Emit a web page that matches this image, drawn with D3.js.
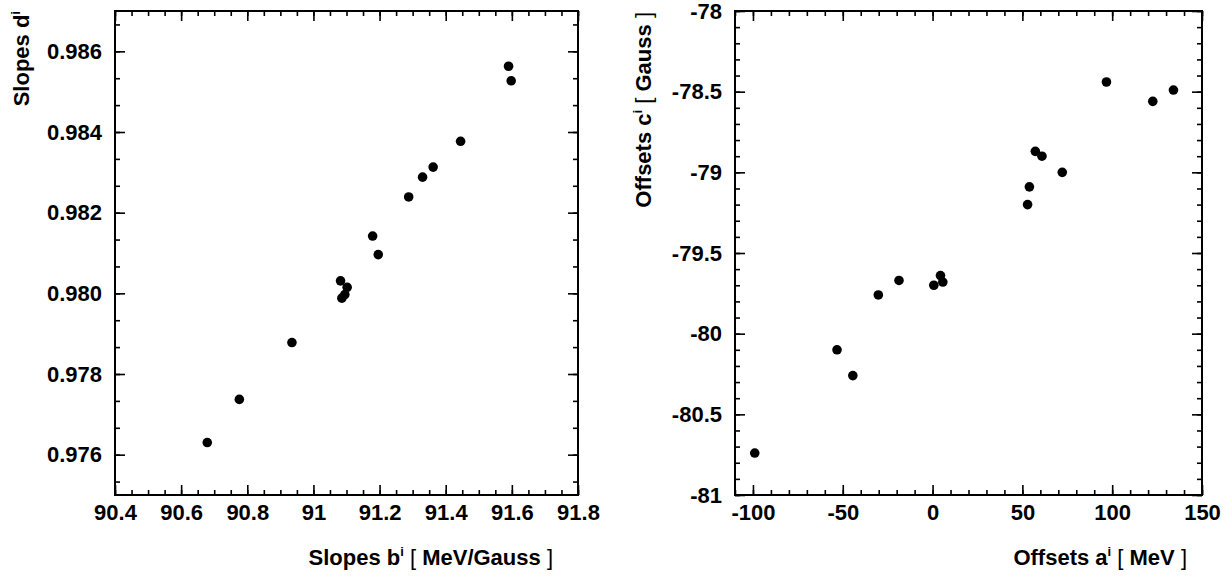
<!DOCTYPE html>
<html><head><meta charset="utf-8">
<script src="https://cdn.jsdelivr.net/npm/d3@7"></script>
<style>
html,body{margin:0;padding:0;background:#fff;}
svg{display:block;}
text{font-family:"Liberation Sans",Arial,Helvetica,sans-serif;font-weight:bold;fill:#000;}
</style></head>
<body>
<svg id="c" width="1229" height="576"></svg>
<script>
// ---- Data ----
const slopesB = [91.590, 91.598, 91.445, 91.362, 91.330, 91.288, 91.179, 91.196, 91.082, 91.102, 91.095, 91.086, 90.935, 90.776, 90.679];
const slopesD = [0.98563, 0.98527, 0.98377, 0.98313, 0.98288, 0.98239, 0.98142, 0.98096, 0.98031, 0.98015, 0.97997, 0.97988, 0.97878, 0.97737, 0.97630];

const offsetsA = [96.8, 122.6, 134.1, 57.2, 60.9, 72.2, 53.9, 52.9, 4.4, 5.7, 0.7, -18.7, -30.2, -53.2, -44.4, -99.0];
const offsetsC = [-78.44, -78.56, -78.49, -78.87, -78.90, -79.00, -79.09, -79.20, -79.64, -79.68, -79.70, -79.67, -79.76, -80.10, -80.26, -80.74];

const leftXTicks = [90.4, 90.6, 90.8, 91.0, 91.2, 91.4, 91.6, 91.8];
const leftYTicks = [0.976, 0.978, 0.980, 0.982, 0.984, 0.986];
const rightXTicks = [-100, -50, 0, 50, 100, 150];
const rightYTicks = [-81, -80.5, -80, -79.5, -79, -78.5, -78];

const leftXTitle = ["Slopes b", "i", "MeV/Gauss"];
const leftYTitle = ["Slopes d", "i"];
const rightXTitle = ["Offsets a", "i", "MeV"];
const rightYTitle = ["Offsets c", "i", "Gauss"];

// ---- Drawing ----
const svg = d3.select("#c");
const FS = 22;

function panel(cfg) {
  const {x0, x1, y0, y1, xDom, yDom, xMajor, yMajor, xMinor, yMinor, xFmt, yFmt, xs, ys} = cfg;
  const x = d3.scaleLinear().domain(xDom).range([x0, x1]);
  const y = d3.scaleLinear().domain(yDom).range([y1, y0]);
  const g = svg.append("g");

  function ax(gen, scale, vals, size, fmt, tr, pad) {
    const a = gen(scale).tickValues(vals).tickSizeInner(-size).tickSizeOuter(0).tickPadding(pad)
      .tickFormat(fmt || (() => ""));
    const s = g.append("g").attr("transform", tr).call(a);
    s.select(".domain").remove();
    s.selectAll("line").attr("stroke", "#000").attr("stroke-width", 1.6);
    s.selectAll("text").attr("font-size", FS).attr("fill", "#000")
      .attr("font-family", '"Liberation Sans",Arial,sans-serif').attr("font-weight", "bold");
    return s;
  }
  // bottom
  ax(d3.axisBottom, x, xMajor, 10, xFmt, `translate(0,${y1})`, 9);
  ax(d3.axisBottom, x, xMinor, 5, null, `translate(0,${y1})`, 9);
  // top
  ax(d3.axisTop, x, xMajor, 10, null, `translate(0,${y0})`, 3);
  ax(d3.axisTop, x, xMinor, 5, null, `translate(0,${y0})`, 3);
  // left
  ax(d3.axisLeft, y, yMajor, 10, yFmt, `translate(${x0},0)`, 13);
  ax(d3.axisLeft, y, yMinor, 5, null, `translate(${x0},0)`, 13);
  // right
  ax(d3.axisRight, y, yMajor, 10, null, `translate(${x1},0)`, 3);
  ax(d3.axisRight, y, yMinor, 5, null, `translate(${x1},0)`, 3);

  // frame
  g.append("rect").attr("x", x0).attr("y", y0).attr("width", x1 - x0).attr("height", y1 - y0)
    .attr("fill", "none").attr("stroke", "#000").attr("stroke-width", 2);

  // points
  g.append("g").selectAll("circle").data(d3.zip(xs, ys)).join("circle")
    .attr("cx", d => x(d[0])).attr("cy", d => y(d[1])).attr("r", 4.8).attr("fill", "#000");
  return g;
}

function title(t, parts, unitBracket) {
  t.attr("font-size", FS).attr("xml:space", "preserve");
  t.append("tspan").text(parts[0]);
  t.append("tspan").attr("font-size", 13).attr("dy", -9).text(parts[1]);
  if (unitBracket) {
    t.append("tspan").attr("dy", 9).attr("font-weight", "normal").text(" [ ");
    t.append("tspan").text(parts[2]);
    t.append("tspan").attr("font-weight", "normal").text(" ]");
  }
}

const fmtX1 = d => String(+d.toFixed(1));
const fmtY1 = d => d.toFixed(3);
const fmtPlain = d => String(+d);

// Left panel
panel({
  x0: 115, x1: 578, y0: 11, y1: 495,
  xDom: [90.4, 91.8], yDom: [0.975, 0.987],
  xMajor: leftXTicks, yMajor: leftYTicks,
  xMinor: d3.range(0, 29).map(k => 90.4 + k * 0.05),
  yMinor: d3.range(-1, 17).map(k => 0.976 + k * 0.002 / 3),
  xFmt: fmtX1, yFmt: fmtY1, xs: slopesB, ys: slopesD
});

// Right panel
panel({
  x0: 735, x1: 1202, y0: 11, y1: 495,
  xDom: [-110, 150], yDom: [-81, -78],
  xMajor: rightXTicks, yMajor: rightYTicks,
  xMinor: d3.range(0, 27).map(k => -110 + k * 10),
  yMinor: d3.range(0, 31).map(k => -81 + k * 0.1),
  xFmt: fmtPlain, yFmt: fmtPlain, xs: offsetsA, ys: offsetsC
});

// Axis titles
title(svg.append("text").attr("x", 553).attr("y", 565).attr("text-anchor", "end"), leftXTitle, true);
title(svg.append("text").attr("x", 1187).attr("y", 565).attr("text-anchor", "end"), rightXTitle, true);
title(svg.append("text").attr("transform", "translate(29,11) rotate(-90)").attr("text-anchor", "end"), leftYTitle, false);
title(svg.append("text").attr("transform", "translate(651,12) rotate(-90)").attr("text-anchor", "end"), rightYTitle, true);
</script>
</body></html>
